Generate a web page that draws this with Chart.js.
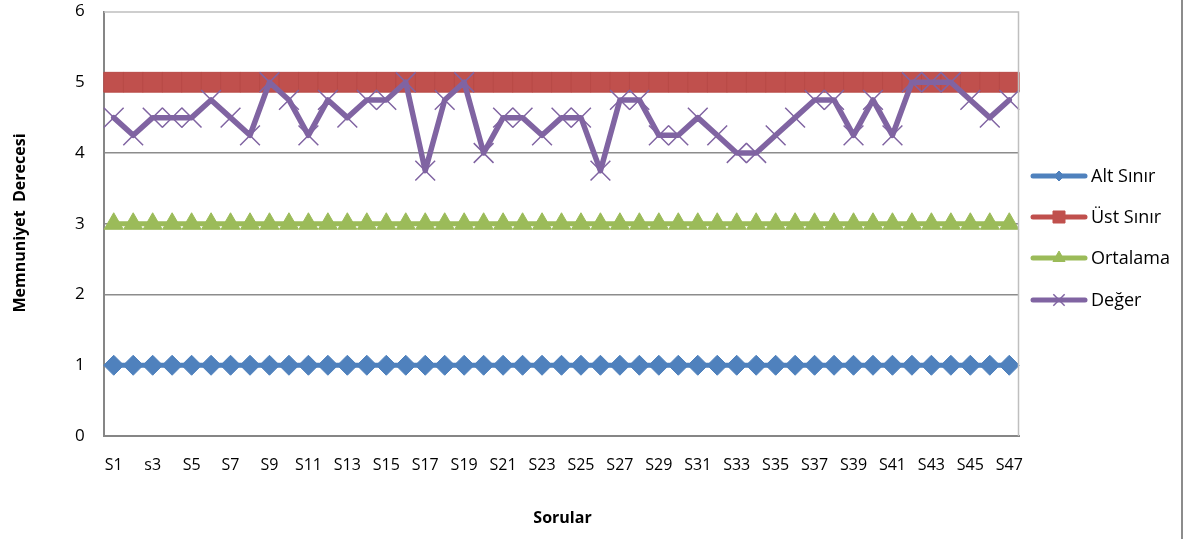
<!DOCTYPE html>
<html>
<head>
<meta charset="utf-8">
<script src="https://cdn.jsdelivr.net/npm/chart.js@4/dist/chart.umd.min.js"></script>
<style>
html,body{margin:0;padding:0;background:#fff;overflow:hidden;}
#wrap{position:relative;width:1187px;height:539px;overflow:hidden;}
canvas{display:block;margin-top:-4px;}
</style>
</head>
<body>
<div id="wrap"><canvas id="c" width="1187" height="543"></canvas></div>
<script>
const categories = ['S1','S2','s3','S4','S5','S6','S7','S8','S9','S10',
  'S11','S12','S13','S14','S15','S16','S17','S18','S19','S20',
  'S21','S22','S23','S24','S25','S26','S27','S28','S29','S30',
  'S31','S32','S33','S34','S35','S36','S37','S38','S39','S40',
  'S41','S42','S43','S44','S45','S46','S47'];

const altSinir = [1,1,1,1,1,1,1,1,1,1, 1,1,1,1,1,1,1,1,1,1, 1,1,1,1,1,1,1,1,1,1, 1,1,1,1,1,1,1,1,1,1, 1,1,1,1,1,1,1];
const ustSinir = [5,5,5,5,5,5,5,5,5,5, 5,5,5,5,5,5,5,5,5,5, 5,5,5,5,5,5,5,5,5,5, 5,5,5,5,5,5,5,5,5,5, 5,5,5,5,5,5,5];
const ortalama = [3,3,3,3,3,3,3,3,3,3, 3,3,3,3,3,3,3,3,3,3, 3,3,3,3,3,3,3,3,3,3, 3,3,3,3,3,3,3,3,3,3, 3,3,3,3,3,3,3];
const deger = [4.5,4.25,4.5,4.5,4.5,4.75,4.5,4.25,5,4.75,
  4.25,4.75,4.5,4.75,4.75,5,3.75,4.75,5,4,
  4.5,4.5,4.25,4.5,4.5,3.75,4.75,4.75,4.25,4.25,
  4.5,4.25,4,4,4.25,4.5,4.75,4.75,4.25,4.75,
  4.25,5,5,5,4.75,4.5,4.75];

const yTicks = [0,1,2,3,4,5,6];
const seriesNames = ['Alt Sınır','Üst Sınır','Ortalama','Değer'];
const xTitle = 'Sorular';
const yTitle = 'Memnuniyet  Derecesi';

const BLUE = '#4F81BD', RED = '#C0504D', GREEN = '#9BBB59', PURPLE = '#8064A2';
const FONT = "'Open Sans', 'Liberation Sans', sans-serif";
const SHIFT = 4; // canvas is moved up by this many pixels

const legendMarkers = [
  {pointStyle:'rectRot', radius:5, fill:BLUE, stroke:BLUE, bw:1},
  {pointStyle:'rect', radius:8.5, fill:RED, stroke:RED, bw:1},
  {pointStyle:'triangle', radius:7, fill:GREEN, stroke:GREEN, bw:1},
  {pointStyle:'crossRot', radius:8, fill:PURPLE, stroke:PURPLE, bw:1.5}
];
const legendColors = [BLUE, RED, GREEN, PURPLE];

const decor = {
  id:'decor',
  afterDraw(chart){
    const ctx = chart.ctx, a = chart.chartArea;
    ctx.save();
    ctx.strokeStyle = '#bfbfbf';
    ctx.lineWidth = 1.5;
    ctx.beginPath();
    ctx.moveTo(a.left, a.top + 0.5);
    ctx.lineTo(a.right - 0.5, a.top + 0.5);
    ctx.lineTo(a.right - 0.5, a.bottom);
    ctx.stroke();
    ctx.strokeStyle = '#8c8c8c';
    ctx.lineWidth = 2;
    ctx.beginPath();
    ctx.moveTo(1182, 0);
    ctx.lineTo(1182, 543);
    ctx.stroke();
    ctx.fillStyle = '#000';
    ctx.font = "bold 16px " + FONT;
    ctx.textAlign = 'center';
    ctx.textBaseline = 'middle';
    ctx.fillText(xTitle, (a.left + a.right) / 2 + 1, 518 + SHIFT);
    ctx.save();
    ctx.translate(20, 223 + SHIFT);
    ctx.rotate(-Math.PI / 2);
    ctx.fillText(yTitle, 0, 0);
    ctx.restore();
    const ys = [176, 217, 258, 300];
    for (let i = 0; i < seriesNames.length; i++) {
      const y = ys[i] + SHIFT;
      ctx.strokeStyle = legendColors[i];
      ctx.lineWidth = 5;
      ctx.lineCap = 'round';
      ctx.beginPath();
      ctx.moveTo(1033, y);
      ctx.lineTo(1085, y);
      ctx.stroke();
      const m = legendMarkers[i];
      ctx.fillStyle = m.fill;
      ctx.strokeStyle = m.stroke;
      ctx.lineWidth = m.bw;
      ctx.lineCap = 'butt';
      Chart.helpers.drawPoint(ctx, {pointStyle:m.pointStyle, radius:m.radius, rotation:0, borderWidth:m.bw}, 1059, y);
      ctx.fillStyle = '#000';
      ctx.font = "18px " + FONT;
      ctx.textAlign = 'left';
      ctx.textBaseline = 'middle';
      ctx.fillText(seriesNames[i], 1091, y + 1);
    }
    ctx.restore();
  }
};

new Chart(document.getElementById('c'), {
  type: 'line',
  data: {
    labels: categories,
    datasets: [
      {label: seriesNames[0], data: altSinir, borderColor: BLUE, backgroundColor: BLUE, borderWidth: 5,
       pointStyle: 'rectRot', pointRadius: 10, pointBorderWidth: 1, pointBorderColor: BLUE, pointBackgroundColor: BLUE, order: 3},
      {label: seriesNames[1], data: ustSinir, borderColor: RED, backgroundColor: RED, borderWidth: 5,
       pointStyle: 'rect', pointRadius: 14, pointBorderWidth: 1, pointBorderColor: '#b84a47', pointBackgroundColor: RED, order: 2},
      {label: seriesNames[2], data: ortalama, borderColor: GREEN, backgroundColor: GREEN, borderWidth: 5,
       pointStyle: 'triangle', pointRadius: 11, pointBorderWidth: 1, pointBorderColor: GREEN, pointBackgroundColor: GREEN, order: 1},
      {label: seriesNames[3], data: deger, borderColor: PURPLE, backgroundColor: PURPLE, borderWidth: 5.5,
       pointStyle: 'crossRot', pointRadius: 14, pointBorderWidth: 1.5, pointBorderColor: PURPLE, pointBackgroundColor: PURPLE, order: 0}
    ]
  },
  options: {
    responsive: false,
    animation: false,
    devicePixelRatio: 1,
    layout: {padding: {top: 12, right: 168, bottom: 0, left: 75}},
    plugins: {legend: {display: false}, tooltip: {enabled: false}},
    elements: {line: {tension: 0, borderJoinStyle: 'round', borderCapStyle: 'round'}, point: {hoverRadius: 10}},
    scales: {
      x: {
        type: 'category',
        offset: true,
        grid: {display: false, drawTicks: false},
        border: {display: true, color: '#868686', width: 2},
        ticks: {
          autoSkip: false, maxRotation: 0, minRotation: 0, padding: 20,
          color: '#000', font: {family: FONT, size: 16},
          callback: function(v, i) { return i % 2 === 0 ? categories[i] : ''; }
        },
        afterFit: function(s) { s.height = 103; }
      },
      y: {
        min: yTicks[0], max: yTicks[yTicks.length - 1],
        afterBuildTicks: function(s) { s.ticks = yTicks.map(v => ({value: v})); },
        grid: {drawTicks: false, color: ctx => (ctx.tick && (ctx.tick.value === 0 || ctx.tick.value === 6)) ? 'rgba(0,0,0,0)' : '#8c8c8c', lineWidth: 1.5},
        border: {display: true, color: '#868686', width: 2},
        ticks: {padding: 0, crossAlign: 'far', color: '#000', font: {family: FONT, size: 17, lineHeight: 1}},
        afterFit: function(s) { s.width = 29; }
      }
    }
  },
  plugins: [decor]
});
</script>
</body>
</html>
